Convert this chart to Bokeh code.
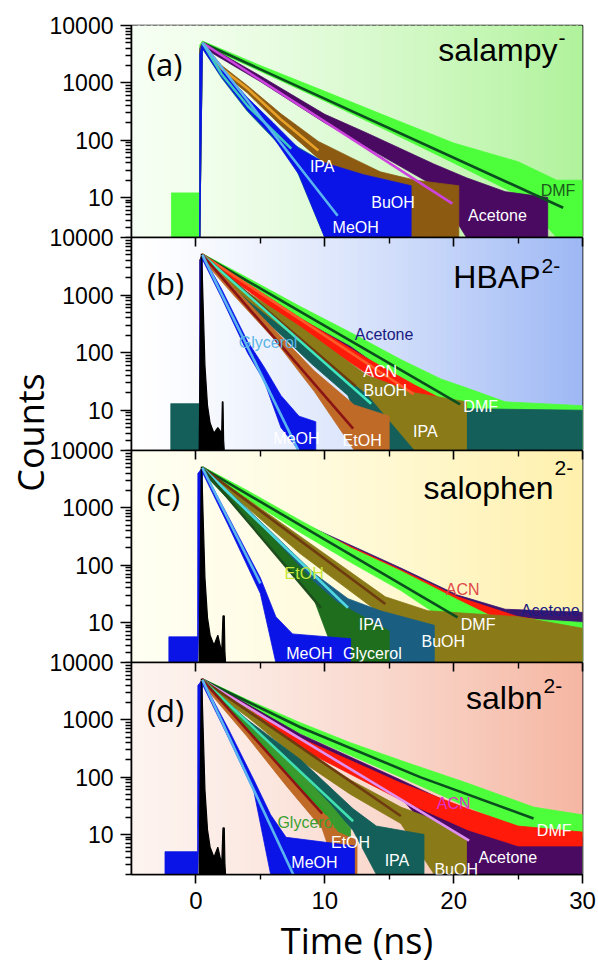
import math
from bokeh.plotting import figure
from bokeh.models import FixedTicker, LinearAxis, Label, Range1d, NumeralTickFormatter
from bokeh.layouts import column, row
from bokeh.embed import file_html
from bokeh.resources import INLINE

# ---------------- axes ----------------
X_RANGE = (-5, 30)
Y_RANGE = (2, 10000)
X_MAJOR = [0, 10, 20, 30]
X_MINOR = [5, 15, 25]
Y_MAJOR = [10, 100, 1000, 10000]
Y_MINOR = [m * d for d in (1, 10, 100, 1000) for m in range(2, 10)]
FLOOR = 2

# ---------------- panel (a) salampy- ----------------
A_DMF_T = [-1.9, 0.28, 0.3, 0.5, 5, 10, 15, 20, 25, 28, 30]
A_DMF_HI = [12, 12, 4570, 5370, 2000, 710, 250, 89, 42, 20, 20]
A_DMF_LO = [2, 2, 2, 4570, 1585, 480, 141, 40, 11, 2, 2]
A_DMF_FIT_T = [0.5, 28.5]
A_DMF_FIT_Y = [5000, 6.6]

A_ACE_T = [0.3, 0.5, 5, 10, 13.3, 18.5, 21, 24, 27.3]
A_ACE_HI = [3980, 5010, 1320, 282, 132, 38, 22, 12.6, 10]
A_ACE_LO = [2, 4170, 1050, 200, 74, 16, 2, 2, 2]
A_ACE_FIT_T = [0.5, 19.9]
A_ACE_FIT_Y = [5000, 7.8]

A_BUOH_T = [0.3, 0.5, 2, 4, 6.6, 9.5, 12, 14.3, 17, 20.4]
A_BUOH_HI = [3550, 5010, 2000, 891, 288, 95, 50, 28, 20, 16]
A_BUOH_LO = [2, 3980, 1514, 661, 178, 48, 16, 2, 2, 2]
A_BUOH_FIT_T = [0.5, 2, 4, 6.6, 9.5]
A_BUOH_FIT_Y = [5000, 1778, 794, 229, 66]

A_IPA_T = [0.3, 0.5, 2, 4, 7.4, 10, 12]
A_IPA_HI = [3160, 4790, 1585, 479, 89, 40, 20]
A_IPA_LO = [2, 3980, 1202, 316, 50, 2, 2]
A_IPA_FIT_T = [0.5, 2, 4, 7.4]
A_IPA_FIT_Y = [5000, 1413, 398, 71]

A_MEOH_T = [0.3, 0.5, 2, 4, 6, 8, 10, 13, 16.7]
A_MEOH_HI = [3160, 4790, 1778, 550, 200, 71, 40, 25, 16]
A_MEOH_LO = [2, 3980, 1259, 331, 112, 25, 2, 2, 2]
A_MEOH_FIT_T = [0.5, 11.0]
A_MEOH_FIT_Y = [5000, 4.8]

# ---------------- panel (b) HBAP2- ----------------
B_IRF_T = [0.25, 0.42, 0.5, 0.7, 0.9, 1.1, 1.4, 1.7, 2.0, 2.05, 2.1, 2.15, 2.2]
B_IRF_HI = [2, 5200, 2000, 60, 12, 6, 4, 5, 4, 14, 14, 3, 2]

B_ACE_T = [0.3, 0.5, 8, 16, 21, 24]
B_ACE_HI = [3980, 5010, 501, 50, 16, 10]
B_ACE_LO = [2, 4170, 380, 32, 2, 2]

B_DMF_T = [0.3, 0.5, 4, 8.1, 12, 15.9, 19, 21.1, 24, 30]
B_DMF_HI = [3980, 5250, 1995, 631, 224, 76, 35, 24, 14, 12]
B_DMF_LO = [2, 4470, 1585, 398, 132, 32, 14, 7.2, 2, 2]
B_DMF_FIT_T = [0.5, 20.5]
B_DMF_FIT_Y = [5000, 12.6]

B_IPA_T = [-1.95, 0.28, 0.3, 0.5, 3, 6.6, 9, 11.8, 13.5, 16, 30]
B_IPA_HI = [13, 13, 3980, 5010, 1413, 355, 112, 48, 22, 11, 10]
B_IPA_LO = [2, 2, 2, 4170, 1047, 204, 63, 18, 2, 2, 2]
B_IPA_FIT_T = [0.5, 13.6]
B_IPA_FIT_Y = [5000, 13]

B_ACN_T = [0.3, 0.5, 4, 8.1, 13.3, 16.9, 19, 20]
B_ACN_HI = [3980, 5250, 1585, 398, 79, 28, 16, 12.6]
B_ACN_LO = [2, 4470, 1202, 251, 43, 16, 2, 2]
B_ACN_FIT_T = [0.5, 16.9]
B_ACN_FIT_Y = [5000, 19]

B_BUOH_T = [0.3, 0.5, 4, 8.1, 13.3, 17, 21]
B_BUOH_HI = [3980, 5010, 1122, 282, 40, 20, 14]
B_BUOH_LO = [2, 4170, 832, 158, 19, 2, 2]
B_BUOH_FIT_T = [0.5, 12.4]
B_BUOH_FIT_Y = [5000, 26]

B_ETOH_T = [0.3, 0.5, 3, 6, 9.2, 12.3, 15]
B_ETOH_HI = [3980, 5010, 1318, 263, 48, 12.3, 7.9]
B_ETOH_LO = [2, 4170, 955, 178, 21, 2, 2]
B_ETOH_FIT_T = [0.5, 12.2]
B_ETOH_FIT_Y = [5000, 4.8]

B_MEOH_T = [0.3, 0.5, 2, 4, 5.3, 6.6, 8, 9.3]
B_MEOH_HI = [3980, 5010, 1259, 158, 56, 18, 7.9, 6.3]
B_MEOH_LO = [2, 4170, 891, 100, 32, 5, 2, 2]
B_MEOH_FIT_T = [0.5, 8.0]
B_MEOH_FIT_Y = [5000, 1.9]

# ---------------- panel (c) salophen2- ----------------
C_IRF_T = [0.25, 0.42, 0.5, 0.7, 0.9, 1.1, 1.4, 1.7, 2.0, 2.1, 2.2, 2.25, 2.3]
C_IRF_HI = [2, 5200, 2000, 60, 12, 6, 4, 6, 3, 13, 13, 3, 2]

C_ACE_T = [0.3, 0.5, 8.1, 15.9, 20.3, 24, 30]
C_ACE_HI = [3980, 5250, 562, 89, 30, 17, 15]
C_ACE_LO = [2, 4470, 398, 40, 10, 2, 2]

C_ACN_T = [0.3, 0.5, 8.1, 15.9, 20.3, 25, 28]
C_ACN_HI = [3980, 5250, 537, 83, 28, 12.6, 10]
C_ACN_LO = [2, 4470, 398, 42, 10, 2, 2]

C_DMF_T = [0.3, 0.5, 4, 8.1, 12, 15.9, 20.3, 23, 30]
C_DMF_HI = [3980, 5250, 1995, 603, 200, 79, 25, 12.6, 10]
C_DMF_LO = [2, 4470, 1413, 372, 112, 36, 7.9, 2, 2]
C_DMF_FIT_T = [0.5, 20.3]
C_DMF_FIT_Y = [5000, 12.3]

C_BUOH_T = [0.3, 0.5, 4, 8.1, 14.7, 18, 25, 30]
C_BUOH_HI = [3980, 5010, 1413, 316, 28, 16, 12.6, 7.9]
C_BUOH_LO = [2, 4170, 1000, 158, 12.3, 2, 2, 2]
C_BUOH_FIT_T = [0.5, 14.7]
C_BUOH_FIT_Y = [5000, 21]

C_IPA_T = [0.3, 0.5, 4, 9.2, 11.8, 14.3, 18.5]
C_IPA_HI = [3980, 5010, 955, 71, 26, 16, 8.9]
C_IPA_LO = [2, 4170, 661, 36, 14, 2, 2]
C_IPA_FIT_T = [0.5, 11.8]
C_IPA_FIT_Y = [5000, 18]

C_GLY_T = [0.3, 0.5, 4, 9.2, 11, 15]
C_GLY_HI = [3980, 5010, 891, 50, 22, 7.1]
C_GLY_LO = [2, 4170, 631, 24, 2, 2]
C_GLY_FIT_T = [0.5, 9.7]
C_GLY_FIT_Y = [5000, 18]

C_MEOH_T = [-2.1, 0.13, 0.15, 0.5, 2.5, 5, 6.2, 7.5, 12]
C_MEOH_HI = [5.6, 5.6, 3980, 5010, 708, 60, 12.6, 6.3, 5.2]
C_MEOH_LO = [2, 2, 2, 4170, 501, 32, 2, 2, 2]
C_MEOH_FIT_T = [0.5, 5.0]
C_MEOH_FIT_Y = [5000, 48]

# ---------------- panel (d) salbn2- ----------------
D_IRF_T = [0.25, 0.42, 0.5, 0.7, 0.9, 1.1, 1.4, 1.7, 2.0, 2.1, 2.2, 2.25, 2.3]
D_IRF_HI = [2, 5200, 2000, 60, 12, 6, 4, 6, 3, 13, 13, 3, 2]

D_DMF_T = [0.3, 0.5, 4, 8.1, 12, 15.9, 21.1, 26.2, 27, 30]
D_DMF_HI = [3980, 5250, 2239, 891, 398, 195, 78, 30, 28, 22]
D_DMF_LO = [2, 4470, 1660, 575, 240, 100, 30, 10, 2, 2]
D_DMF_FIT_T = [0.5, 8.1, 17.4, 26.2]
D_DMF_FIT_Y = [5000, 741, 100, 19]

D_ACE_T = [0.3, 0.5, 8.1, 15.9, 21.1, 25, 30]
D_ACE_HI = [3980, 5250, 562, 89, 25, 10, 8.9]
D_ACE_LO = [2, 4470, 331, 44, 2, 2, 2]
D_ACE_FIT_T = [0.5, 21.2]
D_ACE_FIT_Y = [5000, 7.8]

D_ACN_T = [0.3, 0.5, 8.1, 15.9, 21.1, 25, 30]
D_ACN_HI = [3980, 5250, 479, 79, 28, 14, 11]
D_ACN_LO = [2, 4470, 316, 40, 12, 6.3, 6.3]

D_BUOH_T = [0.3, 0.5, 4, 8.1, 12, 15.9, 18.5, 21]
D_BUOH_HI = [3980, 5010, 1585, 331, 89, 30, 18, 7.9]
D_BUOH_LO = [2, 4170, 1122, 195, 50, 15.5, 2, 2]
D_BUOH_FIT_T = [0.5, 15.9]
D_BUOH_FIT_Y = [5000, 21]

D_IPA_T = [0.3, 0.5, 4, 8.1, 12.2, 14, 17.7]
D_IPA_HI = [3980, 5010, 1000, 204, 28, 14, 10]
D_IPA_LO = [2, 4170, 708, 107, 11.7, 2, 2]
D_IPA_FIT_T = [0.5, 12.2]
D_IPA_FIT_Y = [5000, 17]

D_GLY_T = [0.3, 0.5, 4, 8, 10.5, 12]
D_GLY_HI = [3980, 5010, 832, 126, 32, 12.6]
D_GLY_LO = [2, 4170, 603, 79, 16, 2]
D_GLY_FIT_T = [0.5, 10.2]
D_GLY_FIT_Y = [5000, 22]

D_ETOH_T = [0.3, 0.5, 4, 7, 9.8, 11, 12.5]
D_ETOH_HI = [3980, 5010, 708, 112, 28, 11, 7.9]
D_ETOH_LO = [2, 4170, 501, 71, 12.6, 2, 2]
D_ETOH_FIT_T = [0.5, 9.8]
D_ETOH_FIT_Y = [5000, 23]

D_MEOH_T = [-2.4, 0.13, 0.15, 0.5, 2.5, 4.5, 5.8, 7, 12.3]
D_MEOH_HI = [5, 5, 3980, 5010, 708, 89, 22, 8.9, 6.3]
D_MEOH_LO = [2, 2, 2, 4170, 501, 56, 2, 2, 2]
D_MEOH_FIT_T = [0.5, 7.6]
D_MEOH_FIT_Y = [5000, 1.9]

# ---------------- colours ----------------
C_GREEN = "#4dff3a"
C_PURPLE = "#4a0a62"
C_NAVY = "#3a1670"
C_RED = "#ff1a0a"
C_BROWN = "#8c5a10"
C_OLIVE = "#8a7a18"
C_TEAL = "#155f5a"
C_STEEL = "#1a5f82"
C_DKGREEN = "#1e6e1e"
C_ORANGE = "#c06a28"
C_BLUE = "#0a14e6"
C_GLYD = "#3a9a2e"

TICK_FONT = "Liberation Sans"
W = 552
LEFT_B = 85
RIGHT_B = 16


def mix(c1, c2, f):
    return "#%02x%02x%02x" % tuple(int(round(a + (b - a) * f)) for a, b in zip(c1, c2))


def make_panel(height, top, bottom, g_left, g_right, last=False):
    p = figure(width=W, height=height, x_range=Range1d(*X_RANGE), y_range=Range1d(*Y_RANGE),
               y_axis_type="log", output_backend="svg", toolbar_location=None,
               x_axis_location="below" if last else None,
               min_border_left=LEFT_B, min_border_right=RIGHT_B,
               min_border_top=top, min_border_bottom=bottom)
    p.grid.visible = False
    p.outline_line_color = "black"
    p.outline_line_width = 1.6
    p.border_fill_alpha = 0.0
    p.background_fill_color = "white"
    ya = p.yaxis[0]
    ya.ticker = FixedTicker(ticks=Y_MAJOR, minor_ticks=Y_MINOR)
    ya.formatter = NumeralTickFormatter(format="0")
    ya.major_tick_out = 11
    ya.major_tick_in = 0
    ya.minor_tick_out = 6
    ya.minor_tick_in = 0
    ya.major_tick_line_width = 1.6
    ya.minor_tick_line_width = 1.3
    ya.axis_line_width = 1.6
    ya.major_label_text_font = TICK_FONT
    ya.major_label_text_font_size = "23px"
    ya.major_label_text_color = "black"
    ya.major_label_standoff = 7
    # gradient background (drawn as thin vertical strips)
    n = 70
    x0, x1 = X_RANGE
    dx = (x1 - x0) / n
    lefts = [x0 + i * dx for i in range(n)]
    rights = [x0 + (i + 1) * dx + dx * 0.3 for i in range(n)]
    cols = [mix(g_left, g_right, ((i + 0.5) / n) ** 1.35) for i in range(n)]
    p.quad(left=lefts, right=rights, bottom=[1] * n, top=[20000] * n,
           fill_color=cols, line_color=None)
    return p


def top_ticks(p):
    ax = LinearAxis(ticker=FixedTicker(ticks=X_MAJOR, minor_ticks=X_MINOR))
    ax.major_tick_in = 9
    ax.major_tick_out = 0
    ax.minor_tick_in = 6
    ax.minor_tick_out = 0
    ax.major_tick_line_width = 1.6
    ax.minor_tick_line_width = 1.4
    ax.axis_line_width = 1.6
    ax.major_label_text_color = None
    ax.major_label_text_font_size = "1px"
    ax.major_label_standoff = 0
    p.add_layout(ax, "above")


def band(p, t, hi, lo, color):
    xs = list(t) + list(t)[::-1]
    ys = list(hi) + list(lo)[::-1]
    p.patch(xs, ys, fill_color=color, line_color=color, line_width=0.8)


def irf(p, t, hi):
    xs = list(t) + list(t)[::-1]
    ys = list(hi) + [FLOOR] * len(t)
    p.patch(xs, ys, fill_color="black", line_color="black", line_width=1.2)


def fit(p, t, y, color, w=2.6):
    p.line(t, y, line_color=color, line_width=w)


def tag(p, x, y, text, color="white", size="16px"):
    p.add_layout(Label(x=x, y=y, text=text, text_color=color, text_font=TICK_FONT,
                       text_font_size=size, text_align="center", text_baseline="middle"))


def panel_letter(p, y, text):
    p.add_layout(Label(x=-3.8, y=y, text=text, text_font="Open Sans", text_font_size="31px",
                       text_color="black", text_align="left", text_baseline="alphabetic"))


def title(p, x, y, main, sup, sup_dy):
    p.add_layout(Label(x=x, y=y, text=main, text_font=TICK_FONT, text_font_size="32px",
                       text_color="black", text_align="right", text_baseline="alphabetic"))
    p.add_layout(Label(x=x, y=y, text=sup, text_font=TICK_FONT, text_font_size="21px",
                       text_color="black", text_align="left", text_baseline="alphabetic",
                       x_offset=1, y_offset=sup_dy))


# ---------------- panel a ----------------
pa = make_panel(237, 25, 0, (246, 255, 243), (176, 242, 155))
band(pa, A_DMF_T, A_DMF_HI, A_DMF_LO, C_GREEN)
band(pa, A_ACE_T, A_ACE_HI, A_ACE_LO, C_PURPLE)
band(pa, A_BUOH_T, A_BUOH_HI, A_BUOH_LO, C_BROWN)
band(pa, A_IPA_T, A_IPA_HI, A_IPA_LO, "#1f7f86")
band(pa, A_MEOH_T, A_MEOH_HI, A_MEOH_LO, C_BLUE)
fit(pa, A_DMF_FIT_T, A_DMF_FIT_Y, "#0a4f1e")
fit(pa, A_ACE_FIT_T, A_ACE_FIT_Y, "#cc44dd")
fit(pa, A_BUOH_FIT_T, A_BUOH_FIT_Y, "#e6a028")
fit(pa, A_IPA_FIT_T, A_IPA_FIT_Y, "#3cc8c0")
fit(pa, A_MEOH_FIT_T, A_MEOH_FIT_Y, "#5ab4f0")
tag(pa, 9.8, 35, "IPA")
tag(pa, 15.3, 8.1, "BuOH")
tag(pa, 12.4, 3.0, "MeOH")
tag(pa, 23.4, 4.8, "Acetone")
tag(pa, 28.1, 13, "DMF", color="#1a5a1a")
panel_letter(pa, 2170, "(a)")
title(pa, 28.06, 3800, "salampy", "-", 12)

# ---------------- panel b ----------------
pb = make_panel(225, 12, 0, (255, 255, 255), (158, 184, 245))
top_ticks(pb)
band(pb, B_ACE_T, B_ACE_HI, B_ACE_LO, C_PURPLE)
band(pb, B_DMF_T, B_DMF_HI, B_DMF_LO, C_GREEN)
band(pb, B_IPA_T, B_IPA_HI, B_IPA_LO, C_TEAL)
band(pb, B_ACN_T, B_ACN_HI, B_ACN_LO, C_RED)
band(pb, B_BUOH_T, B_BUOH_HI, B_BUOH_LO, C_OLIVE)
band(pb, B_ETOH_T, B_ETOH_HI, B_ETOH_LO, C_ORANGE)
band(pb, B_MEOH_T, B_MEOH_HI, B_MEOH_LO, C_BLUE)
irf(pb, B_IRF_T, B_IRF_HI)
fit(pb, B_DMF_FIT_T, B_DMF_FIT_Y, "#0a4f1e")
fit(pb, B_ACN_FIT_T, B_ACN_FIT_Y, "#ff5a28")
fit(pb, B_BUOH_FIT_T, B_BUOH_FIT_Y, "#6e3a10")
fit(pb, B_IPA_FIT_T, B_IPA_FIT_Y, "#40e8c0")
fit(pb, B_ETOH_FIT_T, B_ETOH_FIT_Y, "#8b1414")
fit(pb, B_MEOH_FIT_T, B_MEOH_FIT_Y, "#5ab4f0")
tag(pb, 5.6, 148, "Glycerol", color="#5ab4e6")
tag(pb, 14.6, 209, "Acetone", color="#1a1a80")
tag(pb, 14.3, 48, "ACN")
tag(pb, 14.7, 22, "BuOH")
tag(pb, 22.1, 11.7, "DMF")
tag(pb, 17.8, 4.3, "IPA")
tag(pb, 12.9, 3.0, "EtOH")
tag(pb, 7.8, 3.2, "MeOH")
panel_letter(pb, 1640, "(b)")
title(pb, 26.74, 2090, "HBAP", "2-", 11)
pb.margin = (-12, 0, 0, 0)

# ---------------- panel c ----------------
pc = make_panel(224, 12, 0, (255, 255, 242), (255, 240, 172))
top_ticks(pc)
band(pc, C_ACE_T, C_ACE_HI, C_ACE_LO, C_NAVY)
band(pc, C_ACN_T, C_ACN_HI, C_ACN_LO, C_RED)
band(pc, C_DMF_T, C_DMF_HI, C_DMF_LO, C_GREEN)
band(pc, C_BUOH_T, C_BUOH_HI, C_BUOH_LO, C_OLIVE)
band(pc, C_IPA_T, C_IPA_HI, C_IPA_LO, C_STEEL)
band(pc, C_GLY_T, C_GLY_HI, C_GLY_LO, C_DKGREEN)
band(pc, C_MEOH_T, C_MEOH_HI, C_MEOH_LO, C_BLUE)
irf(pc, C_IRF_T, C_IRF_HI)
fit(pc, C_DMF_FIT_T, C_DMF_FIT_Y, "#0a4f1e")
fit(pc, C_BUOH_FIT_T, C_BUOH_FIT_Y, "#6e3a10")
fit(pc, C_IPA_FIT_T, C_IPA_FIT_Y, "#50d8e0")
fit(pc, C_GLY_FIT_T, C_GLY_FIT_Y, "#1e4d1e")
fit(pc, C_MEOH_FIT_T, C_MEOH_FIT_Y, "#5ab4f0")
tag(pc, 8.4, 71, "EtOH", color="#c8e63c")
tag(pc, 13.6, 9.1, "IPA")
tag(pc, 8.8, 2.9, "MeOH")
tag(pc, 13.7, 2.9, "Glycerol")
tag(pc, 20.7, 37, "ACN", color="#e04848")
tag(pc, 27.5, 16, "Acetone", color="#1a1a80")
tag(pc, 21.9, 9.2, "DMF")
tag(pc, 19.2, 4.7, "BuOH")
panel_letter(pc, 1720, "(c)")
title(pc, 27.75, 2180, "salophen", "2-", 20)
pc.margin = (-12, 0, 0, 0)

# ---------------- panel d ----------------
pd = make_panel(317, 12, 91, (253, 243, 239), (245, 182, 162), last=True)
xa = pd.below[0]
xa.ticker = FixedTicker(ticks=X_MAJOR, minor_ticks=X_MINOR)
xa.major_tick_out = 9
xa.major_tick_in = 0
xa.minor_tick_out = 5
xa.minor_tick_in = 0
xa.major_tick_line_width = 1.6
xa.minor_tick_line_width = 1.4
xa.axis_line_width = 1.6
xa.major_label_text_font = TICK_FONT
xa.major_label_text_font_size = "24px"
xa.major_label_text_color = "black"
xa.major_label_standoff = 8
xa.axis_label = "Time (ns)"
xa.axis_label_text_font = "Open Sans"
xa.axis_label_text_font_style = "normal"
xa.axis_label_text_font_size = "36px"
xa.axis_label_text_color = "black"
xa.axis_label_standoff = 4
top_ticks(pd)
band(pd, D_DMF_T, D_DMF_HI, D_DMF_LO, C_GREEN)
band(pd, D_ACE_T, D_ACE_HI, D_ACE_LO, C_PURPLE)
band(pd, D_ACN_T, D_ACN_HI, D_ACN_LO, C_RED)
band(pd, D_BUOH_T, D_BUOH_HI, D_BUOH_LO, C_OLIVE)
band(pd, D_IPA_T, D_IPA_HI, D_IPA_LO, C_TEAL)
band(pd, D_GLY_T, D_GLY_HI, D_GLY_LO, C_GLYD)
band(pd, D_ETOH_T, D_ETOH_HI, D_ETOH_LO, C_ORANGE)
band(pd, D_MEOH_T, D_MEOH_HI, D_MEOH_LO, C_BLUE)
irf(pd, D_IRF_T, D_IRF_HI)
fit(pd, D_DMF_FIT_T, D_DMF_FIT_Y, "#0a4f1e")
fit(pd, D_ACE_FIT_T, D_ACE_FIT_Y, "#e090f0")
fit(pd, D_BUOH_FIT_T, D_BUOH_FIT_Y, "#6e3a10")
fit(pd, D_IPA_FIT_T, D_IPA_FIT_Y, "#40e0b0")
fit(pd, D_GLY_FIT_T, D_GLY_FIT_Y, "#28a028")
fit(pd, D_ETOH_FIT_T, D_ETOH_FIT_Y, "#8b1414")
fit(pd, D_MEOH_FIT_T, D_MEOH_FIT_Y, "#5ab4f0")
tag(pd, 20.0, 35, "ACN", color="#e030c8")
tag(pd, 27.8, 11.8, "DMF")
tag(pd, 24.2, 4.0, "Acetone")
tag(pd, 20.2, 2.45, "BuOH")
tag(pd, 15.6, 3.5, "IPA")
tag(pd, 12.0, 7.2, "EtOH")
tag(pd, 9.2, 3.2, "MeOH")
tag(pd, 8.6, 16, "Glycerol", color="#3aa030")
panel_letter(pd, 1510, "(d)")
title(pd, 26.9, 2370, "salbn", "2-", 12)
pd.margin = (-12, 0, 0, 0)

# ---------------- left strip with the shared y label ----------------
COL_X = 598 - W          # where the panel column starts
LW = 70                  # strip is wider; the panels overlap its right part
pl = figure(width=LW, height=967, x_range=Range1d(0, LW), y_range=Range1d(0, 967),
            output_backend="svg", toolbar_location=None, x_axis_location=None,
            y_axis_location=None, min_border=0)
pl.grid.visible = False
pl.outline_line_color = None
pl.add_layout(Label(x=30, y=967 - 432, text="Counts", angle=math.pi / 2, text_font="Open Sans",
                    text_font_size="36px", text_color="black", text_align="center",
                    text_baseline="middle"))

col = column(pa, pb, pc, pd)
col.margin = (0, 0, 0, COL_X - LW)

layout = row(pl, col)
open("out.html", "w").write(file_html(layout, INLINE))
